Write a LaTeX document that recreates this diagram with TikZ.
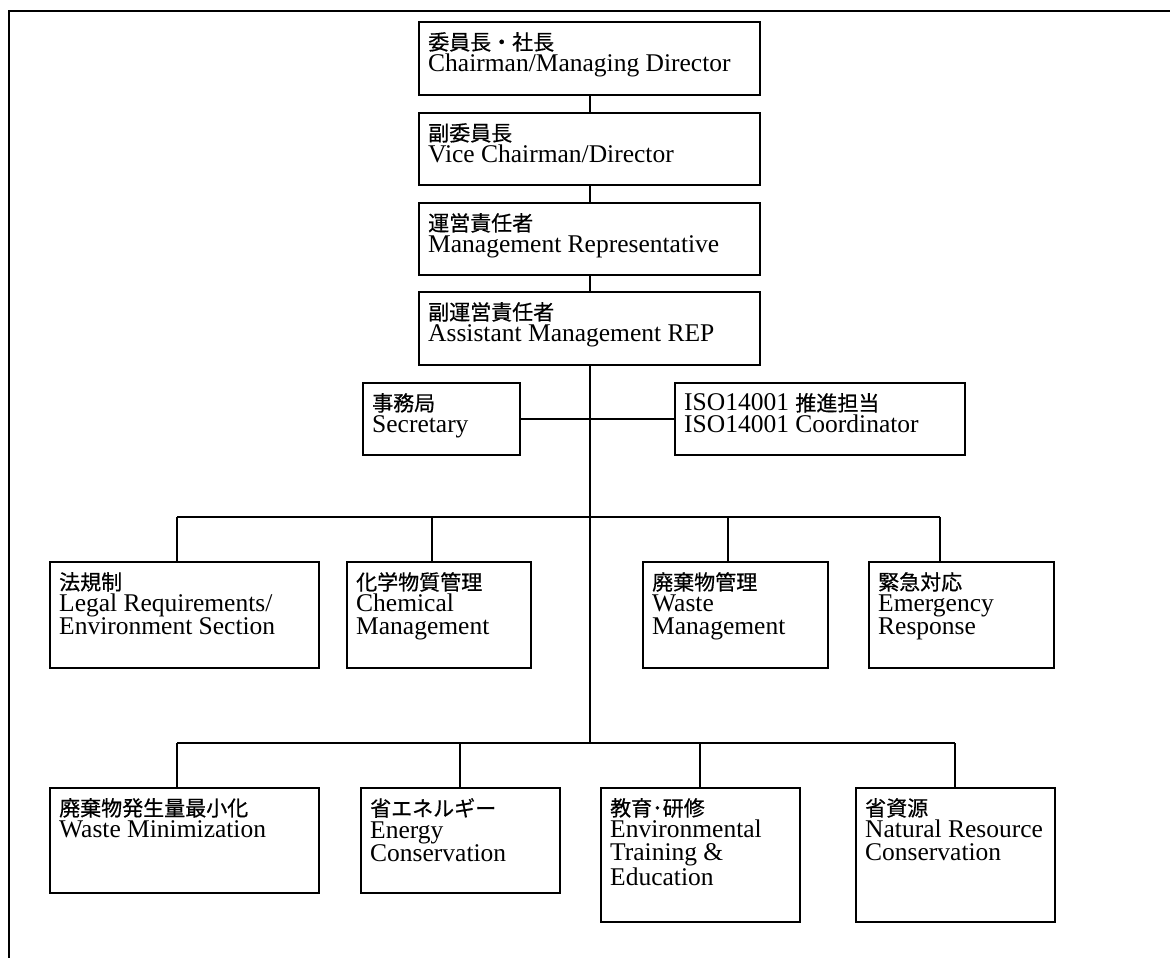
\documentclass[tikz,border=0pt]{standalone}
\usepackage{fontspec}
\setmainfont{Liberation Serif}
\newfontfamily\jpfont{Noto Sans CJK JP}[FakeBold=0.6]
\newcommand{\J}[1]{{\jpfont\fontsize{21}{23}\selectfont #1}}
\begin{document}
\begin{tikzpicture}[x=1pt,y=-1pt,
  box/.style={draw,line width=2pt,outer sep=0pt,inner sep=0pt,anchor=north west},
  txt/.style={anchor=north west,inner sep=0pt,align=left,font=\fontsize{25.5}{23}\selectfont},
  conn/.style={line width=1.8pt}]
\useasboundingbox (0,0) rectangle (1170,958);
% frame
\coordinate (fA) at (9,958);
\coordinate (fB) at (9,11);
\coordinate (fC) at (1170,11);
\draw[line width=2.4pt] (fA) -- (fB) -- (fC);
% boxes
\node[box,minimum width=341pt,minimum height=73pt] (b1) at (419,22) {};
\node[box,minimum width=341pt,minimum height=72pt] (b2) at (419,113) {};
\node[box,minimum width=341pt,minimum height=72pt] (b3) at (419,203) {};
\node[box,minimum width=341pt,minimum height=73pt] (b4) at (419,292) {};
\node[box,minimum width=157pt,minimum height=72pt] (sec) at (363,383) {};
\node[box,minimum width=290pt,minimum height=72pt] (iso) at (675,383) {};
\node[box,minimum width=269pt,minimum height=106pt] (legal) at (50,562) {};
\node[box,minimum width=184pt,minimum height=106pt] (chem) at (347,562) {};
\node[box,minimum width=185pt,minimum height=106pt] (waste) at (643,562) {};
\node[box,minimum width=185pt,minimum height=106pt] (emer) at (869,562) {};
\node[box,minimum width=269pt,minimum height=105pt] (wm) at (50,788) {};
\node[box,minimum width=199pt,minimum height=105pt] (energy) at (361,788) {};
\node[box,minimum width=199pt,minimum height=134pt] (edu) at (601,788) {};
\node[box,minimum width=199pt,minimum height=134pt] (nat) at (856,788) {};
% texts
\node[txt] (b1t) at ([xshift=9pt,yshift=-10pt]b1.north west) {\J{委員長・社長}\\[-1pt]Chairman/Managing Director};
\node[txt] (b2t) at ([xshift=9pt,yshift=-10pt]b2.north west) {\J{副委員長}\\[-1pt]Vice Chairman/Director};
\node[txt] (b3t) at ([xshift=9pt,yshift=-10pt]b3.north west) {\J{運営責任者}\\[-1pt]Management Representative};
\node[txt] (b4t) at ([xshift=9pt,yshift=-10pt]b4.north west) {\J{副運営責任者}\\[-1pt]Assistant Management REP};
\node[txt] (sect) at ([xshift=9pt,yshift=-10pt]sec.north west) {\J{事務局}\\[-1pt]Secretary};
\node[txt] (isot) at ([xshift=9pt,yshift=-10pt]iso.north west) {ISO14001 \J{推進担当}\\[-1pt]ISO14001 Coordinator};
\node[txt] (legalt) at ([xshift=9pt,yshift=-10pt]legal.north west) {\J{法規制}\\[-1pt]Legal Requirements/\\Environment Section};
\node[txt] (chemt) at ([xshift=9pt,yshift=-10pt]chem.north west) {\J{化学物質管理}\\[-1pt]Chemical\\Management};
\node[txt] (wastet) at ([xshift=9pt,yshift=-10pt]waste.north west) {\J{廃棄物管理}\\[-1pt]Waste\\Management};
\node[txt] (emert) at ([xshift=9pt,yshift=-10pt]emer.north west) {\J{緊急対応}\\[-1pt]Emergency\\Response};
\node[txt] (wmt) at ([xshift=9pt,yshift=-10pt]wm.north west) {\J{廃棄物発生量最小化}\\[-1pt]Waste Minimization};
\node[txt] (energyt) at ([xshift=9pt,yshift=-10pt]energy.north west) {\J{省エネルギー}\\[-1pt]Energy\\Conservation};
\node[txt] (edut) at ([xshift=9pt,yshift=-10pt]edu.north west) {\J{教育･研修}\\[-1pt]Environmental\\Training \&\\Education};
\node[txt] (natt) at ([xshift=9pt,yshift=-10pt]nat.north west) {\J{省資源}\\[-1pt]Natural Resource\\Conservation};
% connectors
\coordinate (bus1L) at (177,517);
\coordinate (bus1R) at (940,517);
\coordinate (d12) at (432,517);
\coordinate (d13) at (728,517);
\coordinate (trunk) at (590,743);
\coordinate (bus2L) at (177,743);
\coordinate (bus2R) at (955,743);
\coordinate (d22) at (460,743);
\coordinate (d23) at (700,743);
\coordinate (t0) at (590,365);
\coordinate (t1) at (590,22);
\coordinate (t2) at (590,113);
\coordinate (t3) at (590,203);
\coordinate (t4) at (590,292);
\draw[conn] (t1 |- b1.south) -- (t2 |- b2.north);
\draw[conn] (t2 |- b2.south) -- (t3 |- b3.north);
\draw[conn] (t3 |- b3.south) -- (t4 |- b4.north);
\draw[conn] (t0 |- b4.south) -- (trunk);
\draw[conn] (sec.east) -- (iso.west);
\draw[conn] (bus1L) -- (bus1R);
\draw[conn] (bus1L) -- (bus1L |- legal.north);
\draw[conn] (d12) -- (d12 |- chem.north);
\draw[conn] (d13) -- (d13 |- waste.north);
\draw[conn] (bus1R) -- (bus1R |- emer.north);
\draw[conn] (bus2L) -- (bus2R);
\draw[conn] (bus2L) -- (bus2L |- wm.north);
\draw[conn] (d22) -- (d22 |- energy.north);
\draw[conn] (d23) -- (d23 |- edu.north);
\draw[conn] (bus2R) -- (bus2R |- nat.north);
\end{tikzpicture}
\end{document}
